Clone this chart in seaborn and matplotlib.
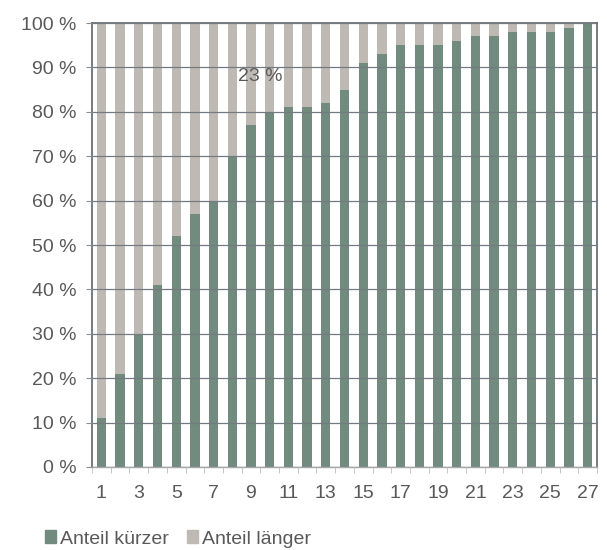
import pandas as pd
import numpy as np
import seaborn as sns
import matplotlib.pyplot as plt
from matplotlib.patches import Patch

# Anteile je Kategorie (in %)
kategorien = [str(i) for i in range(1, 28)]
anteil_kuerzer = [11, 21, 30, 41, 52, 57, 60, 70, 77, 80, 81, 81, 82, 85,
                  91, 93, 95, 95, 95, 96, 97, 97, 98, 98, 98, 99, 100]
anteil_laenger = [100 - v for v in anteil_kuerzer]
y_ticks = [0, 10, 20, 30, 40, 50, 60, 70, 80, 90, 100]

df = pd.DataFrame({"Kategorie": kategorien,
                   "kuerzer": anteil_kuerzer,
                   "laenger": anteil_laenger})
df["gesamt"] = df["kuerzer"] + df["laenger"]

sns.set_style("white")
plt.rcParams["font.family"] = ["Liberation Sans", "DejaVu Sans"]

gruen = "#728b7f"
grau = "#bfb9b4"
textfarbe = "#595959"

fig = plt.figure(figsize=(6.07, 5.5), dpi=100)
ax = fig.add_axes([0.1516, 0.151, 0.8319, 0.807])

# gestapelt: erst Gesamt (grau), dann kürzer (grün) darüber
sns.barplot(data=df, x="Kategorie", y="gesamt", color=grau, width=0.5,
            saturation=1, ax=ax, zorder=2, linewidth=0)
sns.barplot(data=df, x="Kategorie", y="kuerzer", color=gruen, width=0.5,
            saturation=1, ax=ax, zorder=2, linewidth=0)

ax.set_ylim(0, 100)
ax.set_xlim(-0.5, len(kategorien) - 0.5)
ax.set_yticks(y_ticks)
ax.set_yticklabels([f"{t} %" for t in y_ticks])
ax.set_xticks(range(0, len(kategorien), 2))
ax.set_xticklabels(kategorien[::2])
ax.set_xticks(np.arange(-0.5, len(kategorien), 1), minor=True)
ax.set_xlabel("")
ax.set_ylabel("")

ax.yaxis.grid(True, color="#737b80", linewidth=0.9, zorder=3)
ax.set_axisbelow(False)

ax.tick_params(axis="y", which="major", length=4, color="#8c8c8c",
               labelsize=14, labelcolor=textfarbe, pad=7, left=True)
ax.tick_params(axis="x", which="major", length=0, labelsize=14,
               labelcolor=textfarbe, pad=13)
ax.tick_params(axis="x", which="minor", length=4, color="#bdbdbd",
               bottom=True)

for s in ["left", "top", "right"]:
    ax.spines[s].set_color("#5d666c")
    ax.spines[s].set_linewidth(1.2)
ax.spines["bottom"].set_color("#a6a6a6")
ax.spines["bottom"].set_linewidth(1.0)

ax.text(8.48, 88, "23 %", ha="center", va="center", fontsize=14,
        color=textfarbe, zorder=5)

handles = [Patch(color=gruen, label="Anteil kürzer"),
           Patch(color=grau, label="Anteil länger")]
fig.legend(handles=handles, loc="center left", bbox_to_anchor=(0.045, 0.02),
           ncol=2, frameon=False, fontsize=14, handlelength=0.6,
           handleheight=0.6, handletextpad=0.2, columnspacing=0.9,
           labelcolor=textfarbe)

fig.savefig("out.png", dpi=100)
